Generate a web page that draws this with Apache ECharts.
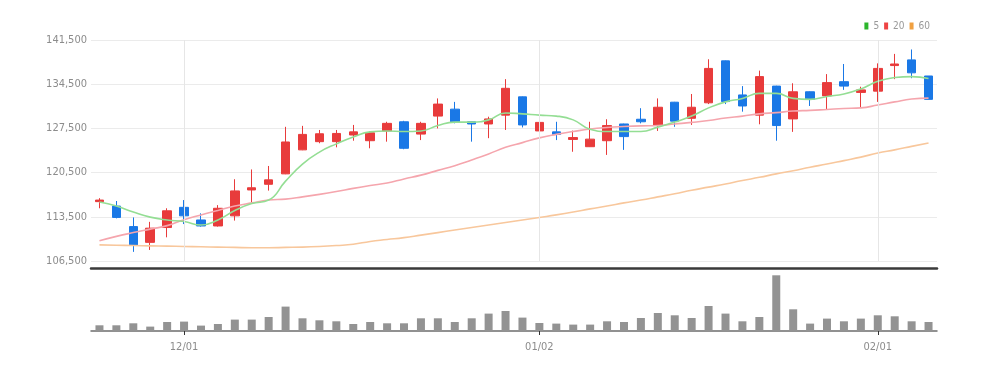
<!DOCTYPE html>
<html>
<head>
<meta charset="utf-8">
<script src="https://cdn.jsdelivr.net/npm/echarts@6/dist/echarts.min.js"></script>
<style>
html,body{margin:0;padding:0;background:#fff;}
#chart{width:997px;height:372px;}
</style>
</head>
<body>
<div id="chart"></div>
<script>
const dates = ['11/24','11/25','11/28','11/29','11/30','12/01','12/02','12/05','12/06','12/07','12/08','12/09','12/12','12/13','12/14','12/15','12/16','12/19','12/20','12/21','12/22','12/23','12/26','12/27','12/28','12/29','01/02','01/03','01/04','01/05','01/06','01/09','01/10','01/11','01/12','01/13','01/16','01/17','01/18','01/19','01/20','01/25','01/26','01/27','01/30','01/31','02/01','02/02','02/03','02/06'];
const tickLabels = ['12/01','01/02','02/01'];
const yTicks = {min:106500, max:141500, interval:7000};
// [open, close, low, high]
const openVals  = [115900,115200,111950,109450,111800,115000,113000,112050,113650,117750,118650,120300,124100,125400,125400,126450,125550,127100,128550,126600,129450,130550,128550,128200,129600,132500,127100,126950,125750,124600,125550,128200,128950,128050,131650,129100,131550,138200,132800,129600,134200,129000,133300,132650,134900,133200,133400,137450,138350,135800];
const closeVals = [116150,113400,109050,111700,114450,113650,112050,114850,117600,118100,119350,125350,126550,126650,126700,126950,126800,128300,124350,128300,131350,128550,128200,129000,133850,128050,128450,126550,126050,125800,127950,126200,128550,130850,128650,130850,137000,131750,131050,135700,127950,133300,132100,134750,134200,133600,137000,137700,136300,132100];
const lowVals   = [114850,113250,107950,108250,110250,112350,111950,111950,112900,115650,117650,120250,124050,125150,124500,125550,124350,125400,124200,125650,127500,128300,125400,125950,127250,127650,126950,125650,123800,124550,123300,124100,128300,127100,127750,128050,131350,131350,130150,128150,125550,126950,131050,130550,133600,130850,131700,135300,135450,132100];
const highVals  = [116450,116000,113400,112700,114850,116150,114050,115350,119450,121000,121550,127750,127900,127250,127250,128050,127000,128550,128700,128550,132250,131700,128600,129350,135300,132550,131700,128550,127150,128550,128950,128250,130700,132250,131700,132950,138450,138250,134200,136650,134250,134650,133350,136100,137700,134100,137800,139300,140000,135800];
const ma5  = [115850,115200,114250,113450,113000,112750,112200,113000,114500,115600,116150,119150,121850,123750,125050,126150,126950,127100,127000,127100,127950,128500,128500,128850,129950,129800,129600,129450,128850,127350,127000,127000,127000,127700,128500,129450,130750,131700,132250,133050,133050,132250,132100,132550,132950,133750,134950,135550,135700,135400];
const ma20 = [109700,110400,111000,111550,112100,113050,113800,114500,115200,115700,116150,116300,116650,117050,117500,118000,118450,118850,119500,120100,120850,121600,122500,123450,124500,125250,126000,126550,127000,127400,127650,127800,127900,127950,128200,128450,128750,129150,129450,129800,130000,130250,130350,130500,130650,130750,131200,131700,132150,132300];
const ma60 = [109050,109000,108950,108900,108850,108800,108750,108700,108650,108600,108600,108650,108700,108800,108950,109150,109600,109900,110200,110600,111000,111400,111800,112200,112600,113000,113400,113800,114250,114750,115200,115700,116150,116650,117150,117700,118200,118700,119250,119750,120300,120800,121350,121850,122400,122950,123600,124100,124650,125200];
const volume = [28500,28500,38500,22000,45000,47000,27000,35000,57000,57000,70000,122000,63500,53500,48500,35000,45000,38500,38500,63500,63500,45000,63500,87000,100000,67000,40000,37000,32000,32000,48500,45000,65000,90000,78500,65000,125000,87000,48500,70000,278500,108500,37000,62000,48500,62000,78500,73500,48500,45000];

const candles = dates.map((d,i)=>[openVals[i], closeVals[i], lowVals[i], highVals[i]]);
const FONT = "'Liberation Sans Narrow','DejaVu Sans Condensed',sans-serif";
const TXT = '#8c8c8c';
const isTick = (idx) => tickLabels.indexOf(dates[idx]) >= 0;

const chart = echarts.init(document.getElementById('chart'), null, {renderer:'canvas'});
chart.setOption({
  animation: false,
  backgroundColor: '#ffffff',
  textStyle: {fontFamily: FONT},
  legend: {
    right: 62, top: 16, icon: 'rect', itemWidth: 4, itemHeight: 7, itemGap: 5,
    textStyle: {fontSize: 10, color: '#999', fontFamily: FONT},
    data: [
      {name:'5', itemStyle:{color:'#2cb52c'}},
      {name:'20', itemStyle:{color:'#ee4444'}},
      {name:'60', itemStyle:{color:'#f0a040'}}
    ]
  },
  grid: [
    {left: 91, right: 60, top: 40, height: 221},
    {left: 91, right: 60, top: 271, height: 60}
  ],
  xAxis: [
    {type:'category', gridIndex:0, data: dates, boundaryGap: true, offset: 7,
     axisLine:{show:true, onZero:false, lineStyle:{color:'#3a3a3a', width:2.5}},
     axisTick:{show:false}, axisLabel:{show:false}, splitLine:{show:false}},
    {type:'category', gridIndex:1, data: dates, boundaryGap: true,
     axisLine:{show:true, onZero:false, lineStyle:{color:'#6e6e6e', width:1.5}},
     axisTick:{show:true, alignWithLabel:true, length:4, interval:(i)=>isTick(i), lineStyle:{color:'#333'}},
     axisLabel:{show:true, interval:(i)=>isTick(i), color:TXT, fontSize:11, margin:11, fontFamily:FONT},
     splitLine:{show:false}}
  ],
  yAxis: [
    {type:'value', gridIndex:0, min: yTicks.min, max: yTicks.max, interval: yTicks.interval,
     axisLine:{show:false}, axisTick:{show:false},
     axisLabel:{color:TXT, fontSize:11, margin:4, fontFamily:FONT, formatter:(v)=>v.toLocaleString('en-US')},
     splitLine:{show:true, lineStyle:{color:'#ebebeb', width:1}}},
    {type:'value', gridIndex:1, min:0, max:300000, show:false, splitLine:{show:false}}
  ],
  series: [
    {type:'candlestick', name:'price', xAxisIndex:0, yAxisIndex:0, data: candles, barWidth: 9,
     itemStyle:{color:'#e83b3b', color0:'#1a78e6', borderColor:'#e83b3b', borderColor0:'#1a78e6', borderWidth:1},
     markLine:{silent:true, symbol:['none','none'], label:{show:false},
       lineStyle:{color:'#e6e6e6', type:'solid', width:1},
       data: tickLabels.map(t=>({xAxis:t}))}
    },
    {type:'line', name:'60', xAxisIndex:0, yAxisIndex:0, data: ma60, smooth:true, symbol:'none',
     lineStyle:{color:'#f8c79c', width:1.6}, itemStyle:{color:'#f0a040'}, z:3},
    {type:'line', name:'20', xAxisIndex:0, yAxisIndex:0, data: ma20, smooth:true, symbol:'none',
     lineStyle:{color:'#f5a5ad', width:1.6}, itemStyle:{color:'#ee4444'}, z:3},
    {type:'line', name:'5', xAxisIndex:0, yAxisIndex:0, data: ma5, smooth:true, symbol:'none',
     lineStyle:{color:'#94de94', width:1.6}, itemStyle:{color:'#2cb52c'}, z:3},
    {type:'bar', name:'vol', xAxisIndex:1, yAxisIndex:1, data: volume, barWidth: 8,
     itemStyle:{color:'#939393'}}
  ]
});
</script>
</body>
</html>
